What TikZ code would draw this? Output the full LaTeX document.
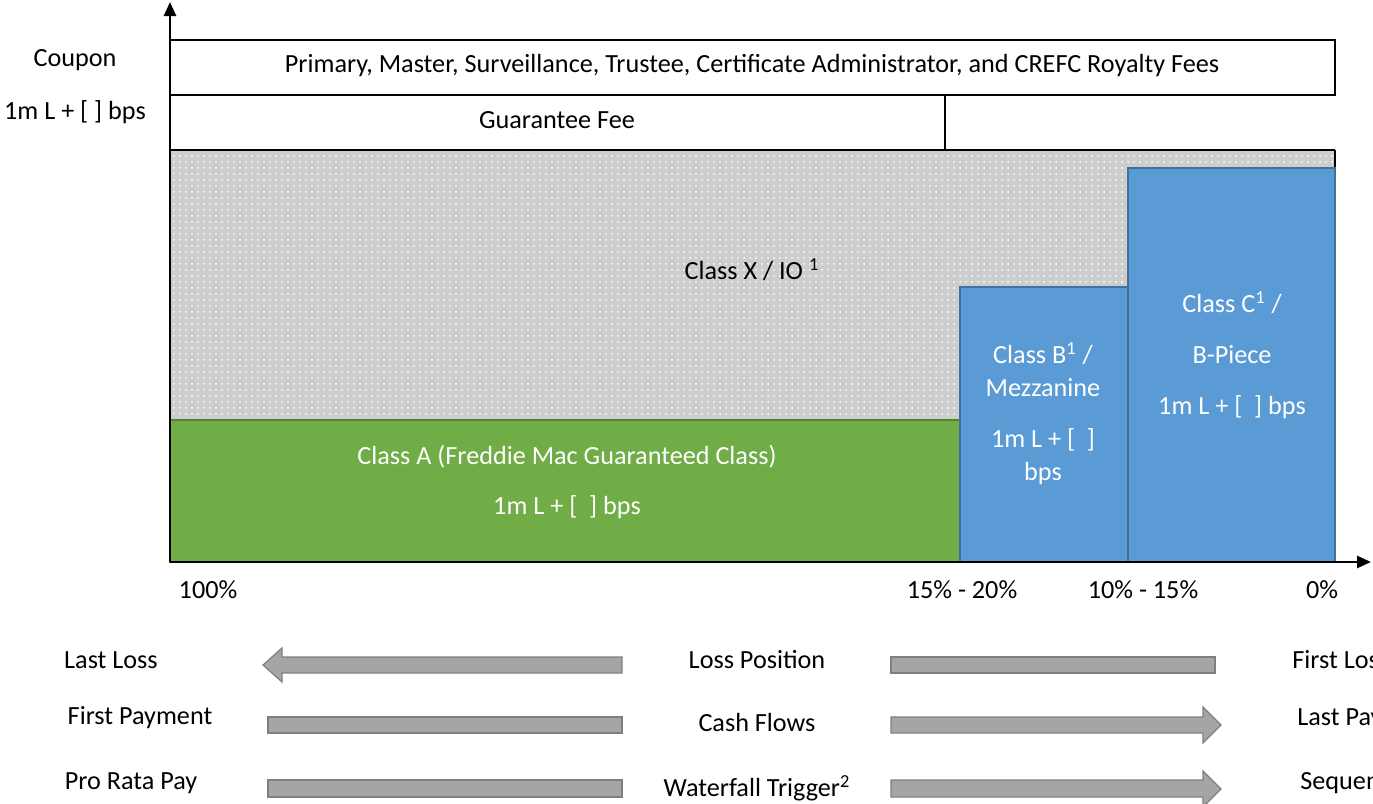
\documentclass[tikz,border=0pt]{standalone}
\usepackage{fontspec}
\setmainfont{Carlito}
\usetikzlibrary{arrows.meta,patterns}

\definecolor{ioGray}{HTML}{CDCDCD}
\definecolor{clsGreen}{HTML}{70AD47}
\definecolor{clsGreenLine}{HTML}{548235}
\definecolor{clsBlue}{HTML}{5B9BD5}
\definecolor{clsBlueLine}{HTML}{41719C}
\definecolor{barFill}{HTML}{A5A5A5}
\definecolor{barLine}{HTML}{7F7F7F}

\begin{document}
\begin{tikzpicture}[x=0.5pt,y=-0.5pt,font=\fontsize{13.1}{16.5}\selectfont,
	feebox/.style={draw,line width=0.75pt},
	tranche/.style={line width=0.75pt},
	inbox/.style={text=white,align=center},
	bar/.style={fill=barFill,draw=barLine,line width=0.6pt},
	axis/.style={line width=1.3pt,-{Triangle[length=7pt,width=6pt]}}]
	\useasboundingbox (0,0) rectangle (1373,804);

	% fee strips on top
	\draw[feebox] (170,40) rectangle (1335,95);
	\draw[feebox] (170,95) rectangle (945,150);
	\node (fees) at (752,66) {Primary, Master, Surveillance, Trustee, Certificate Administrator, and CREFC Royalty Fees};
	\node (gfee) at (557,120) {Guarantee Fee};

	% interest only strip
	\fill[ioGray] (170,150) rectangle (1335,562);
	\fill[pattern=dots,pattern color=white] (170,150) rectangle (1335,562);
	\draw[line width=0.6pt] (1335,150) -- (1335,562);
	\draw[line width=1.2pt] (170,150) -- (1335,150);
	\node (io) at (752,270) {Class X / IO \textsuperscript{1}};

	% tranches
	\draw[tranche,fill=clsGreen,draw=clsGreenLine] (170,420) rectangle (960,562);
	\draw[tranche,fill=clsBlue,draw=clsBlueLine] (960,287) rectangle (1128,562);
	\draw[tranche,fill=clsBlue,draw=clsBlueLine] (1128,168) rectangle (1335,562);
	\node[inbox] (a) at (567,482) {Class A (Freddie Mac Guaranteed Class)\\[8.5pt]1m L + [\ \ ] bps};
	\node[inbox] (b) at (1043,414) {Class B\textsuperscript{1} /\\Mezzanine\\[9pt]1m L + [\ \ ]\\bps};
	\node[inbox] (c) at (1232,355) {Class C\textsuperscript{1} /\\[9pt]B-Piece\\[9pt]1m L + [\ \ ] bps};

	% axes
	\draw[axis] (170,562) -- (170,2);
	\draw[axis] (170,562) -- (1371,562);
	\node (coupon) at (75,60) {Coupon};
	\node (spread) at (75,112) {1m L + [ ] bps};
	\node (p100) at (208,590) {100\%};
	\node (p15) at (962,590) {15\% - 20\%};
	\node (p10) at (1143,590) {10\% - 15\%};
	\node (p0) at (1322,590) {0\%};

	% loss position
	\node (lastloss) at (111,660) {Last Loss};
	\node (losspos) at (757,660) {Loss Position};
	\node[anchor=west,inner sep=0] (firstloss) at (1292,660) {First Loss};
	\draw[bar] (622,657) -- (282,657) -- (282,648) -- (263,665) -- (282,682) -- (282,673) -- (622,673) -- cycle;
	\draw[bar] (891,657) rectangle (1215,673);

	% cash flows
	\node (firstpay) at (140,718) {First Payment};
	\node (cash) at (757,722) {Cash Flows};
	\node[anchor=west,inner sep=0] (lastpay) at (1297,719) {Last Payment};
	\draw[bar] (268,717) rectangle (622,733);
	\draw[bar] (891,717) -- (1203,717) -- (1203,707) -- (1221,725) -- (1203,743) -- (1203,733) -- (891,733) -- cycle;

	% waterfall
	\node (prorata) at (131,783) {Pro Rata Pay};
	\node (trigger) at (757,788) {Waterfall Trigger\textsuperscript{2}};
	\node[anchor=west,inner sep=0] (seqpay) at (1300,783) {Sequential Pay};
	\draw[bar] (268,780) rectangle (622,797);
	\draw[bar] (891,780) -- (1203,780) -- (1203,771) -- (1221,789) -- (1203,807) -- (1203,797) -- (891,797) -- cycle;
\end{tikzpicture}
\end{document}
